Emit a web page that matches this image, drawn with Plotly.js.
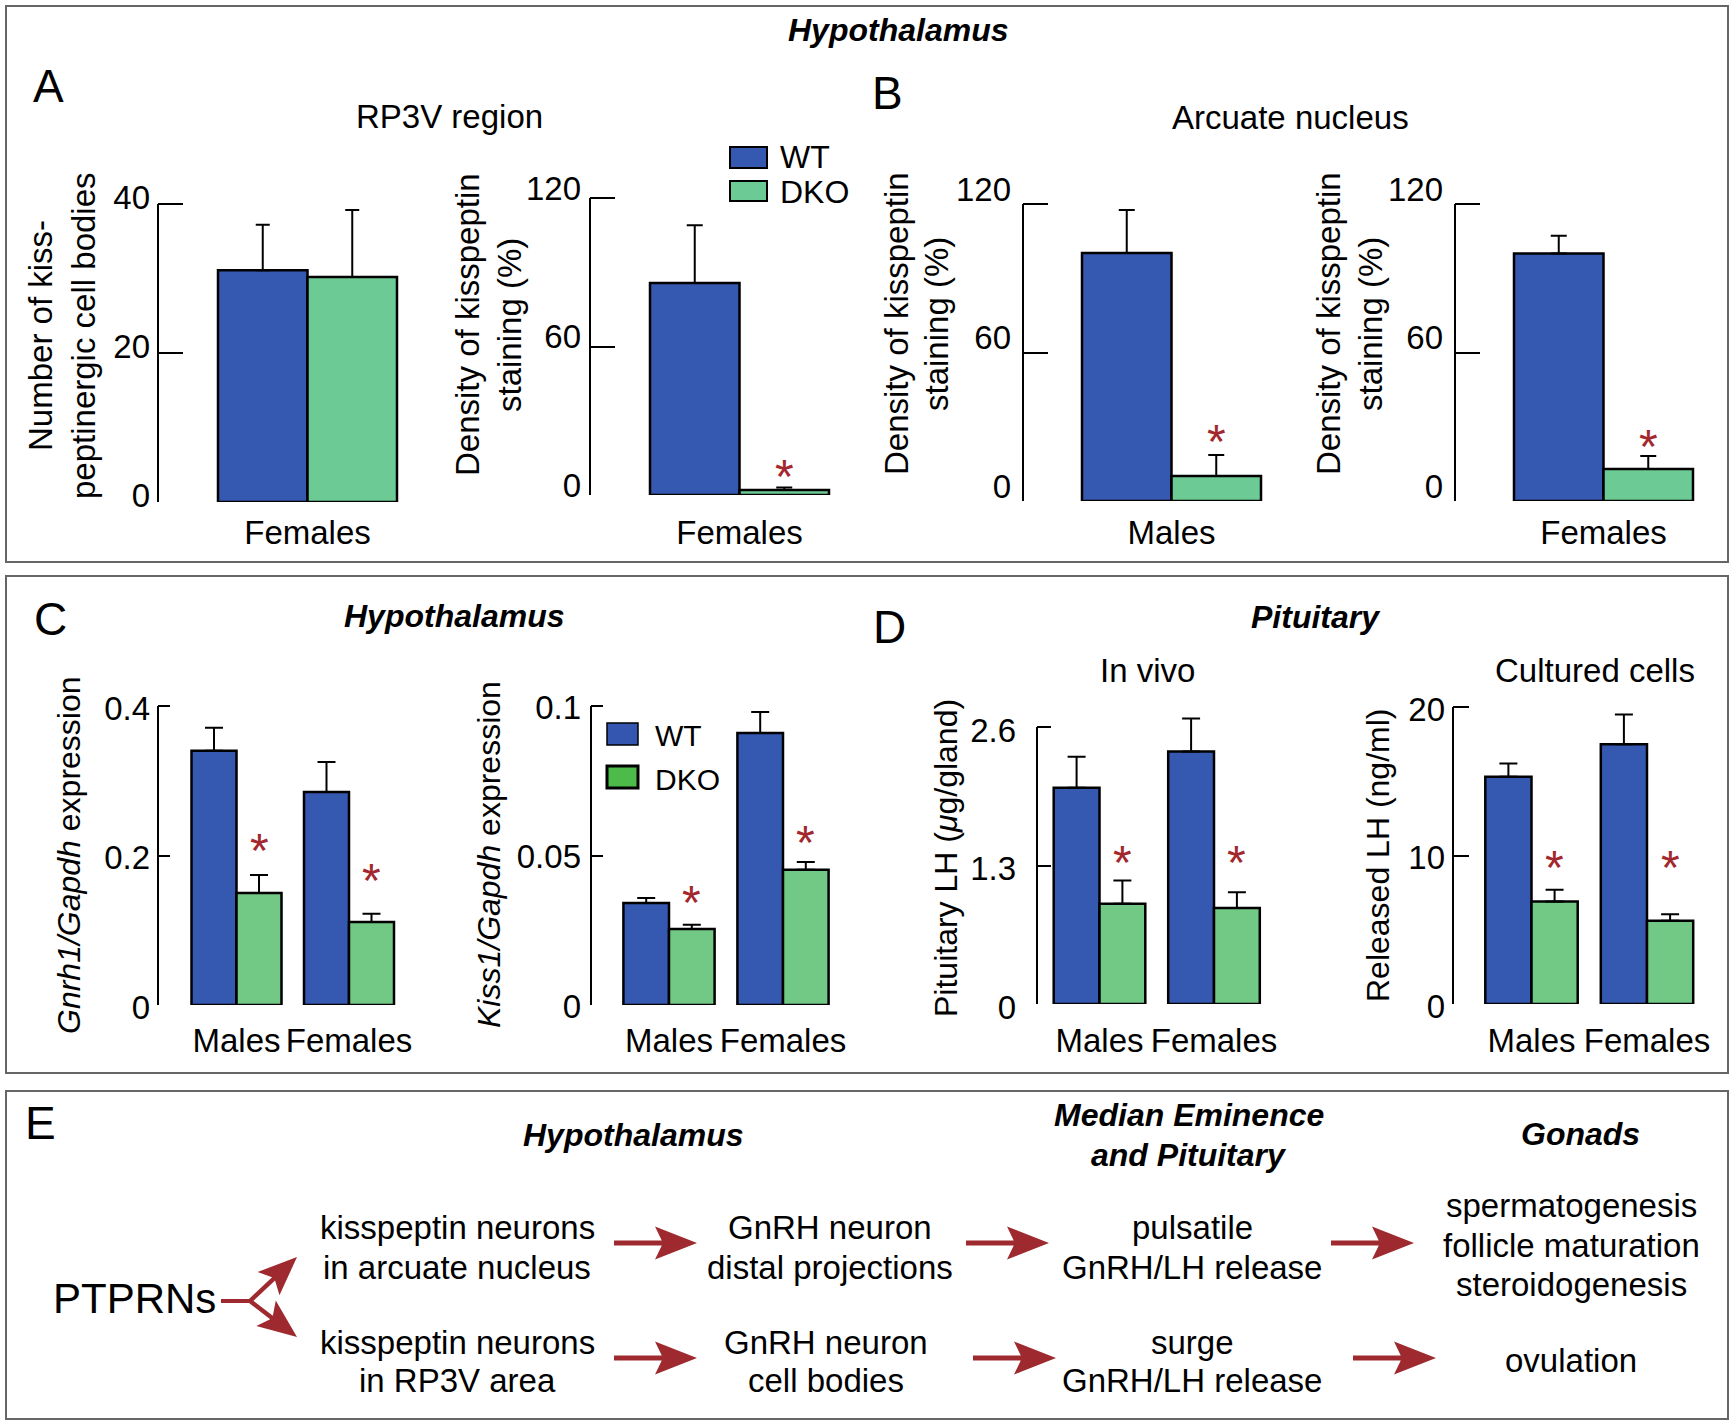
<!DOCTYPE html>
<html><head><meta charset="utf-8">
<script src="https://cdn.plot.ly/plotly-3.0.1.min.js"></script>
<style>html,body{margin:0;padding:0;background:#fff}#chart{width:1734px;height:1424px}</style>
</head><body><div id="chart"></div>
<script>
// ================= DATA =================
const catFemales = ['Females'];
const catMales = ['Males'];
const catSex = ['Males', 'Females'];
const seriesNames = ['WT', 'DKO'];

// Panel A - RP3V region
const a1WT = [31.1], a1WTsem = [6.1], a1KO = [30.2], a1KOsem = [9.0];
const a1Ticks = [0, 20, 40], a1TickText = ['0', '20', '40'];
const a2WT = [85.7], a2WTsem = [23.3], a2KO = [2.0], a2KOsem = [1.0], a2Star = [12];
const densTicks = [0, 60, 120], densTickText = ['0', '60', '120'];
// Panel B - Arcuate nucleus
const b1WT = [100.2], b1WTsem = [17.4], b1KO = [10.1], b1KOsem = [8.5], b1Star = [28.3];
const b2WT = [100.0], b2WTsem = [7.2], b2KO = [12.9], b2KOsem = [5.3], b2Star = [26.3];
// Panel C - Hypothalamus expression
const c1WT = [0.340, 0.285], c1WTsem = [0.031, 0.040], c1KO = [0.150, 0.111], c1KOsem = [0.024, 0.011], c1Star = [0.222, 0.181];
const c1Ticks = [0, 0.2, 0.4], c1TickText = ['0', '0.2', '0.4'];
const c2WT = [0.0341, 0.091], c2WTsem = [0.0017, 0.007], c2KO = [0.0254, 0.0452], c2KOsem = [0.0014, 0.0026], c2Star = [0.0378, 0.0579];
const c2Ticks = [0, 0.05, 0.1], c2TickText = ['0', '0.05', '0.1'];
// Panel D - Pituitary
const d1WT = [2.03, 2.37], d1WTsem = [0.29, 0.31], d1KO = [0.94, 0.90], d1KOsem = [0.22, 0.15], d1Star = [1.43, 1.43];
const d1Ticks = [0, 1.3, 2.6], d1TickText = ['0', '1.3', '2.6'];
const d2WT = [15.3, 17.5], d2WTsem = [0.9, 2.0], d2KO = [6.9, 5.6], d2KOsem = [0.8, 0.45], d2Star = [9.9, 9.9];
const d2Ticks = [0, 10, 20], d2TickText = ['0', '10', '20'];

// ================= STYLE / LAYOUT =================
const W = 1734, H = 1424;
const X = p => p / W;
const Y = p => 1 - p / H;
const FONT = 'Liberation Sans, Arial, Helvetica, sans-serif';
const WT_COLOR = '#3558b0';
const KO_AB = '#6ccb95';
const KO_CD = '#72c985';
const STAR = '#a3282d';
const ARROW = '#9e2a2f';

const panels = [
  {cats: catFemales, wt: a1WT, wtE: a1WTsem, ko: a1KO, koE: a1KOsem, star: null, ticks: a1Ticks, tt: a1TickText,
   axisX: 158, c0: 307.5, unit: 179 / 0.8, y0: 502, yTop: 204, tl: 25, shift: -7, stand: 7, xstand: 8, ko_c: KO_AB, cap: 7},
  {cats: catFemales, wt: a2WT, wtE: a2WTsem, ko: a2KO, koE: a2KOsem, star: a2Star, ticks: densTicks, tt: densTickText,
   axisX: 590, c0: 739.5, unit: 179 / 0.8, y0: 495, yTop: 198, tl: 25, shift: -10, stand: 8, xstand: 15, ko_c: KO_AB, cap: 8},
  {cats: catMales, wt: b1WT, wtE: b1WTsem, ko: b1KO, koE: b1KOsem, star: b1Star, ticks: densTicks, tt: densTickText,
   axisX: 1023, c0: 1171.5, unit: 179 / 0.8, y0: 501, yTop: 204, tl: 25, shift: -15, stand: 11, xstand: 9, ko_c: KO_AB, cap: 8},
  {cats: catFemales, wt: b2WT, wtE: b2WTsem, ko: b2KO, koE: b2KOsem, star: b2Star, ticks: densTicks, tt: densTickText,
   axisX: 1455, c0: 1603.5, unit: 179 / 0.8, y0: 501, yTop: 204, tl: 25, shift: -15, stand: 11, xstand: 9, ko_c: KO_AB, cap: 8},
  {cats: catSex, wt: c1WT, wtE: c1WTsem, ko: c1KO, koE: c1KOsem, star: c1Star, ticks: c1Ticks, tt: c1TickText,
   axisX: 158, c0: 236.5, unit: 112.5, y0: 1005, yTop: 706, tl: 12, shift: 2, stand: 7, xstand: 13, ko_c: KO_CD, cap: 9},
  {cats: catSex, wt: c2WT, wtE: c2WTsem, ko: c2KO, koE: c2KOsem, star: c2Star, ticks: c2Ticks, tt: c2TickText,
   axisX: 591, c0: 669, unit: 114, y0: 1005, yTop: 706, tl: 12, shift: 1, stand: 9, xstand: 13, ko_c: KO_CD, cap: 9},
  {cats: catSex, wt: d1WT, wtE: d1WTsem, ko: d1KO, koE: d1KOsem, star: d1Star, ticks: d1Ticks, tt: d1TickText,
   axisX: 1037, c0: 1099.5, unit: 114.5, y0: 1004, yTop: 727, tl: 14, shift: 3, stand: 20, xstand: 14, ko_c: KO_CD, cap: 9},
  {cats: catSex, wt: d2WT, wtE: d2WTsem, ko: d2KO, koE: d2KOsem, star: d2Star, ticks: d2Ticks, tt: d2TickText,
   axisX: 1453, c0: 1531.5, unit: 115.5, y0: 1004, yTop: 707, tl: 16, shift: 2, stand: 7, xstand: 14, ko_c: KO_CD, cap: 9}
];

const traces = [];
const layout = {
  width: W, height: H, margin: {l: 0, r: 0, t: 0, b: 0},
  paper_bgcolor: '#fff', plot_bgcolor: 'rgba(0,0,0,0)',
  font: {family: FONT, size: 33, color: '#000'},
  barmode: 'group', bargap: 0.2, bargroupgap: 0,
  showlegend: false,
  annotations: [], shapes: []
};

panels.forEach((p, i) => {
  const k = i + 1;
  const xs = k === 1 ? '' : String(k);
  const ymax = p.ticks[p.ticks.length - 1];
  const rangeTop = ymax * 1.08;
  const pxPerUnit = (p.y0 - p.yTop) / ymax;
  const topPx = p.y0 - rangeTop * pxPerUnit;
  const rightPx = p.c0 + (p.cats.length - 1) * p.unit + 0.55 * p.unit;
  const zeros = p.wt.map(() => 0);
  traces.push({
    type: 'bar', name: seriesNames[0], x: p.cats, y: p.wt, xaxis: 'x' + xs, yaxis: 'y' + xs,
    marker: {color: WT_COLOR, line: {color: '#000', width: 2.5}},
    error_y: {type: 'data', array: p.wtE, arrayminus: zeros, symmetric: false, color: '#000', thickness: 2, width: p.cap},
    hoverinfo: 'skip'
  });
  traces.push({
    type: 'bar', name: seriesNames[1], x: p.cats, y: p.ko, xaxis: 'x' + xs, yaxis: 'y' + xs,
    marker: {color: p.ko_c, line: {color: '#000', width: 2.5}},
    error_y: {type: 'data', array: p.koE, arrayminus: zeros, symmetric: false, color: '#000', thickness: 2, width: p.cap},
    hoverinfo: 'skip'
  });
  layout['xaxis' + xs] = {
    domain: [X(p.axisX), X(rightPx)], anchor: 'y' + xs, type: 'category', categoryarray: p.cats,
    range: [(p.axisX - p.c0) / p.unit, (rightPx - p.c0) / p.unit],
    showline: false, showgrid: false, zeroline: false, ticks: '', fixedrange: true,
    tickfont: {family: FONT, size: 33, color: '#000'}, ticklabelstandoff: p.xstand
  };
  layout['yaxis' + xs] = {
    domain: [Y(p.y0), Y(topPx)], anchor: 'x' + xs, range: [0, rangeTop],
    showline: false, showgrid: false, zeroline: false, fixedrange: true,
    ticks: 'inside', ticklen: p.tl, tickwidth: 2, tickcolor: '#000',
    tickmode: 'array', tickvals: p.ticks, ticktext: p.tt,
    tickfont: {family: FONT, size: 33, color: '#000'},
    ticklabelshift: p.shift, ticklabelstandoff: p.stand
  };
  // axis line spanning from 0 to the top tick
  layout.shapes.push({type: 'line', xref: 'paper', yref: 'y' + xs, x0: X(p.axisX), x1: X(p.axisX), y0: 0, y1: ymax,
    line: {color: '#000', width: 2}});
  if (p.star) {
    p.star.forEach((s, j) => {
      layout.annotations.push({xref: 'x' + xs, yref: 'y' + xs, x: j + 0.2, y: s, text: '*', showarrow: false,
        xanchor: 'center', yanchor: 'middle', yshift: -11, font: {family: FONT, size: 48, color: STAR}});
    });
  }
});

// ---------- text helpers ----------
function txt(t, px, py, size, opts) {
  opts = opts || {};
  layout.annotations.push(Object.assign({
    xref: 'paper', yref: 'paper', x: X(px), y: Y(py), text: t, showarrow: false,
    xanchor: 'center', yanchor: 'middle', font: {family: FONT, size: size, color: '#000'}
  }, opts));
}
const bi = s => '<b><i>' + s + '</i></b>';
const rot = {textangle: -90};

// Frames
[[6, 6, 1728, 562], [6, 576, 1728, 1073], [6, 1091, 1728, 1419]].forEach(b => {
  layout.shapes.push({type: 'rect', xref: 'paper', yref: 'paper', x0: X(b[0]), x1: X(b[2]), y0: Y(b[1]), y1: Y(b[3]),
    line: {color: '#666', width: 2}, fillcolor: 'rgba(0,0,0,0)'});
});

// Top frame texts
txt(bi('Hypothalamus'), 898, 30, 32);
txt('A', 48, 86, 46);
txt('RP3V region', 449, 117, 33);
txt('B', 887, 93, 46);
txt('Arcuate nucleus', 1290, 118, 33);
txt('Number of kiss-', 40, 336, 33, rot);
txt('peptinergic cell bodies', 83, 336, 33, rot);
txt('Density of kisspeptin', 467, 325, 33, rot);
txt('staining (%)', 509, 325, 33, rot);
txt('Density of kisspeptin', 897, 324, 33, rot);
txt('staining (%)', 937, 324, 33, rot);
txt('Density of kisspeptin', 1329, 324, 33, rot);
txt('staining (%)', 1371, 324, 33, rot);

// Legend A
function legendBox(x0, y0, x1, y1, color, lw) {
  layout.shapes.push({type: 'rect', xref: 'paper', yref: 'paper', x0: X(x0), x1: X(x1), y0: Y(y0), y1: Y(y1),
    fillcolor: color, line: {color: '#000', width: lw}});
}
legendBox(730, 147, 767, 168, WT_COLOR, 2);
legendBox(730, 181, 767, 201, KO_AB, 2);
txt(seriesNames[0], 778, 157, 32, {xanchor: 'left'});
txt(seriesNames[1], 778, 192, 32, {xanchor: 'left'});

// Middle frame texts
txt('C', 50, 619, 46);
txt(bi('Hypothalamus'), 454, 616, 32);
txt('D', 889, 627, 46);
txt(bi('Pituitary'), 1316, 617, 32);
txt('In vivo', 1147, 670, 33);
txt('Cultured cells', 1595, 670, 33);
txt('<i>Gnrh1/Gapdh</i> expression', 69, 855, 32, rot);
txt('<i>Kiss1/Gapdh</i> expression', 489, 855, 32, rot);
txt('Pituitary LH (<i>μ</i>g/gland)', 946, 858, 32, rot);
txt('Released LH (ng/ml)', 1378, 856, 32, rot);
legendBox(607, 723, 638, 745, '#3455b0', 1.5);
legendBox(607, 766, 638, 788, '#4dbb4a', 3);
txt(seriesNames[0], 653, 735, 30, {xanchor: 'left'});
txt(seriesNames[1], 653, 779, 30, {xanchor: 'left'});

// Bottom frame (E)
txt('E', 40, 1123, 46);
txt(bi('Hypothalamus'), 633, 1135, 32);
txt(bi('Median Eminence'), 1189, 1115, 32);
txt(bi('and Pituitary'), 1189, 1155, 32);
txt(bi('Gonads'), 1580, 1134, 32);
txt('kisspeptin neurons', 457, 1227, 33);
txt('in arcuate nucleus', 457, 1267, 33);
txt('GnRH neuron', 830, 1227, 33);
txt('distal projections', 830, 1267, 33);
txt('pulsatile', 1192, 1227, 33);
txt('GnRH/LH release', 1192, 1267, 33);
txt('spermatogenesis', 1571, 1205, 33);
txt('follicle maturation', 1571, 1245, 33);
txt('steroidogenesis', 1571, 1284, 33);
txt('kisspeptin neurons', 457, 1342, 33);
txt('in RP3V area', 457, 1380, 33);
txt('GnRH neuron', 826, 1342, 33);
txt('cell bodies', 826, 1380, 33);
txt('surge', 1192, 1342, 33);
txt('GnRH/LH release', 1192, 1380, 33);
txt('ovulation', 1571, 1360, 33);
txt('PTPRNs', 134, 1298, 42);

// Arrows
function arrowPath(xs, ys, xt, yt, headLen, halfW, notch, shaftHalf) {
  const dx = xt - xs, dy = yt - ys, L = Math.hypot(dx, dy);
  const ux = dx / L, uy = dy / L, nx = -uy, ny = ux;
  const pt = (x, y) => X(x).toFixed(5) + ',' + Y(y).toFixed(5);
  const nb = headLen - notch;
  const jb = nb + notch * shaftHalf / halfW;
  const P = [
    [xs + shaftHalf * nx, ys + shaftHalf * ny],
    [xt - jb * ux + shaftHalf * nx, yt - jb * uy + shaftHalf * ny],
    [xt - headLen * ux + halfW * nx, yt - headLen * uy + halfW * ny],
    [xt, yt],
    [xt - headLen * ux - halfW * nx, yt - headLen * uy - halfW * ny],
    [xt - jb * ux - shaftHalf * nx, yt - jb * uy - shaftHalf * ny],
    [xs - shaftHalf * nx, ys - shaftHalf * ny]
  ];
  return 'M' + P.map(q => pt(q[0], q[1])).join('L') + 'Z';
}
function arrow(xs, ys, xt, yt, hl, hw, nt, sh) {
  layout.shapes.push({type: 'path', xref: 'paper', yref: 'paper', path: arrowPath(xs, ys, xt, yt, hl, hw, nt, sh),
    fillcolor: ARROW, line: {width: 0, color: ARROW}});
}
[[614, 697, 1243], [966, 1049, 1243], [1331, 1414, 1243],
 [614, 697, 1358], [973, 1056, 1358], [1353, 1436, 1358]].forEach(a => arrow(a[0], a[2], a[1], a[2], 42, 16.5, 8, 2.6));
// fork
layout.shapes.push({type: 'line', xref: 'paper', yref: 'paper', x0: X(221), x1: X(251), y0: Y(1301), y1: Y(1301),
  line: {color: ARROW, width: 4}});
arrow(250, 1301, 297, 1257, 39, 16, 8, 2.2);
arrow(250, 1301, 297, 1337, 39, 16, 8, 2.2);

Plotly.newPlot('chart', traces, layout, {staticPlot: true, displayModeBar: false});
</script>
</body></html>
